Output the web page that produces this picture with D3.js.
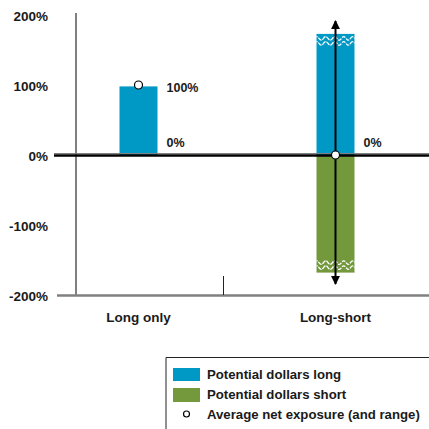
<!DOCTYPE html>
<html><head><meta charset="utf-8">
<script src="https://cdn.jsdelivr.net/npm/d3@7"></script>
<style>body{margin:0;background:#fff}svg{display:block}text{font-family:"Liberation Sans",Arial,sans-serif;font-weight:bold;fill:#1a1a1a}</style>
</head><body>
<svg id="c" width="429" height="429"></svg>
<script>
const categories = ["Long only", "Long-short"];
const longValues = [98, 173];
const shortValues = [0, -168];
const netExposure = [100, 0];
const rangeLabelsTop = ["100%", "0%"];
const rangeLabelsBottom = ["0%", null];
const unbounded = [false, true];
const yTicks = [200, 100, 0, -100, -200];
const legendItems = ["Potential dollars long", "Potential dollars short", "Average net exposure (and range)"];

const BLUE = "#0099c6", GREEN = "#74993d";
const svg = d3.select("#c");
const y = d3.scaleLinear().domain([-200, 200]).range([295, 15]);
const x = d3.scaleBand().domain(categories).range([40, 434]);
const bw = 38;
const cx = d => x(d) + x.bandwidth() / 2;

// y axis line
svg.append("line").attr("x1", 76).attr("x2", 76).attr("y1", 13).attr("y2", y(-200))
  .attr("stroke", "#808080").attr("stroke-width", 2);
// bottom axis
svg.append("line").attr("x1", 57).attr("x2", 429).attr("y1", y(-200) + 0.5).attr("y2", y(-200) + 0.5)
  .attr("stroke", "#808080").attr("stroke-width", 2.5);
// separator tick
svg.append("line").attr("x1", 223.5).attr("x2", 223.5).attr("y1", 276).attr("y2", y(-200))
  .attr("stroke", "#222").attr("stroke-width", 1);

// y labels
svg.selectAll(".yl").data(yTicks).join("text")
  .attr("x", 48).attr("y", d => y(d) + 1).attr("text-anchor", "end")
  .attr("dominant-baseline", "central").attr("font-size", 13.5)
  .text(d => d + "%");

// bars
const g = svg.append("g");
g.selectAll(".lb").data(categories).join("rect")
  .attr("x", d => cx(d) - bw / 2).attr("width", bw)
  .attr("y", (d, i) => y(longValues[i])).attr("height", (d, i) => y(0) - y(longValues[i]))
  .attr("fill", BLUE);
g.selectAll(".sb").data(categories).join("rect")
  .attr("x", d => cx(d) - bw / 2).attr("width", bw)
  .attr("y", y(0)).attr("height", (d, i) => y(shortValues[i]) - y(0))
  .attr("fill", GREEN);

// wavy break marks on unbounded bars
function wave(x0, x1, yy) {
  let p = `M${x0},${yy}`;
  const per = 9;
  for (let xx = x0; xx < x1; xx += per) {
    p += ` q${per / 4},-3.5 ${per / 2},0 q${per / 4},3.5 ${per / 2},0`;
  }
  return p;
}
categories.forEach((c, i) => {
  if (!unbounded[i]) return;
  const x0 = cx(c) - bw / 2, x1 = cx(c) + bw / 2;
  const clip = svg.append("clipPath").attr("id", "cl" + i);
  clip.append("rect").attr("x", x0).attr("width", bw).attr("y", 0).attr("height", 429);
  const wg = svg.append("g").attr("clip-path", `url(#cl${i})`);
  const yt = y(longValues[i]), yb = y(shortValues[i]);
  [yt + 4.5, yt + 9.5, yb - 10, yb - 5].forEach(yy => {
    wg.append("path").attr("d", wave(x0 - 2, x1, yy)).attr("fill", "none")
      .attr("stroke", "#fff").attr("stroke-width", 1.3).attr("stroke-dasharray", "4,1");
  });
});

// zero line
svg.append("line").attr("x1", 54).attr("x2", 429).attr("y1", y(0) - 1.5).attr("y2", y(0) - 1.5)
  .attr("stroke", "#808080").attr("stroke-width", 1);
svg.append("line").attr("x1", 54).attr("x2", 429).attr("y1", y(0) + 0.5).attr("y2", y(0) + 0.5)
  .attr("stroke", "#000").attr("stroke-width", 2.5);

// arrows for unbounded range
const defs = svg.append("defs");
defs.append("marker").attr("id", "ah").attr("viewBox", "0 0 10 10").attr("refX", 9).attr("refY", 5)
  .attr("markerWidth", 9).attr("markerHeight", 9).attr("markerUnits", "userSpaceOnUse").attr("orient", "auto")
  .append("path").attr("d", "M0,0 L10,5 L0,10 Z").attr("fill", "#000");
categories.forEach((c, i) => {
  if (!unbounded[i]) return;
  svg.append("line").attr("x1", cx(c)).attr("x2", cx(c)).attr("y1", y(netExposure[i])).attr("y2", 21)
    .attr("stroke", "#000").attr("stroke-width", 2).attr("marker-end", "url(#ah)");
  svg.append("line").attr("x1", cx(c)).attr("x2", cx(c)).attr("y1", y(netExposure[i])).attr("y2", 284)
    .attr("stroke", "#000").attr("stroke-width", 2).attr("marker-end", "url(#ah)");
});

// net exposure markers
svg.selectAll(".ne").data(categories).join("circle")
  .attr("cx", d => cx(d)).attr("cy", (d, i) => y(netExposure[i])).attr("r", 4)
  .attr("fill", "#fff").attr("stroke", "#000").attr("stroke-width", 1.2);

// range labels
svg.selectAll(".rt").data(categories).join("text")
  .attr("x", d => cx(d) + 28).attr("y", (d, i) => i === 0 ? y(longValues[i]) + 6 : y(0) - 8)
  .attr("font-size", 12.5).text((d, i) => rangeLabelsTop[i]);
svg.selectAll(".rb").data(categories.filter((d, i) => rangeLabelsBottom[i]))
  .join("text").attr("x", d => cx(d) + 28).attr("y", y(0) - 8)
  .attr("font-size", 12.5).text((d) => rangeLabelsBottom[categories.indexOf(d)]);

// category labels
svg.selectAll(".cl").data(categories).join("text")
  .attr("x", d => cx(d)).attr("y", 322).attr("text-anchor", "middle").attr("font-size", 13.5)
  .text(d => d);

// legend
svg.append("path").attr("d", "M166,429 V357.5 H429").attr("fill", "none").attr("stroke", "#222").attr("stroke-width", 1);
const lg = svg.append("g");
lg.append("rect").attr("x", 173).attr("y", 368).attr("width", 27).attr("height", 13).attr("fill", BLUE);
lg.append("rect").attr("x", 173).attr("y", 388).attr("width", 27).attr("height", 14).attr("fill", GREEN);
lg.append("circle").attr("cx", 186.5).attr("cy", 414).attr("r", 3).attr("fill", "#fff").attr("stroke", "#000").attr("stroke-width", 1.2);
lg.selectAll(".lt").data(legendItems).join("text")
  .attr("x", 207).attr("y", (d, i) => 379 + i * 20).attr("font-size", 13.2)
  .text(d => d);
</script>
</body></html>
